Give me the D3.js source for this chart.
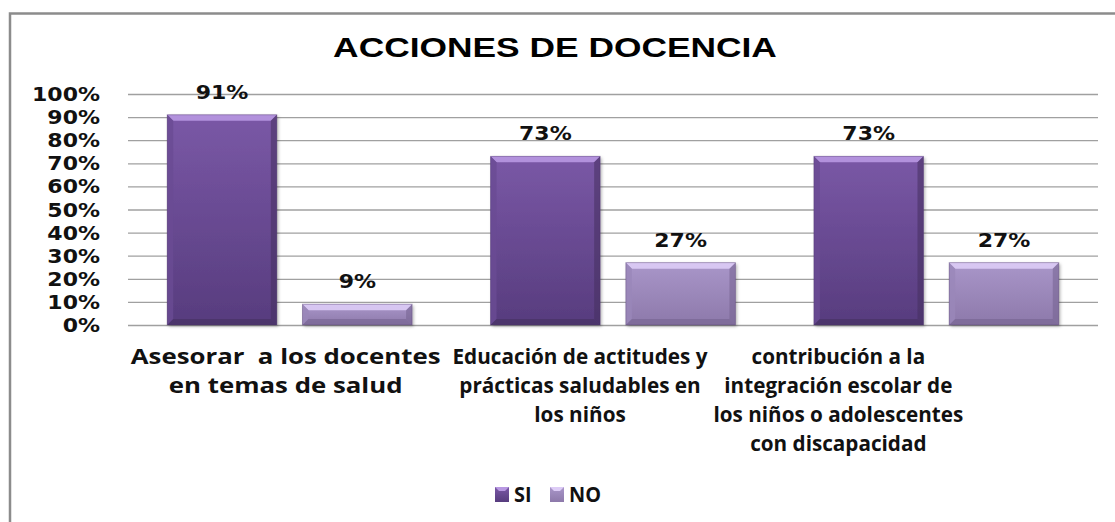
<!DOCTYPE html>
<html lang="es">
<head>
<meta charset="utf-8">
<title>Acciones de docencia</title>
<script src="https://cdn.jsdelivr.net/npm/d3@7"></script>
<style>
  html, body { margin: 0; padding: 0; background: #fff; }
  svg { display: block; }
  text { white-space: pre; }
</style>
</head>
<body>
<svg id="chart" width="1115" height="522"></svg>
<script>
// data
var categories = [
  ["Asesorar  a los docentes", "en temas de salud"],
  ["Educación de actitudes y", "prácticas saludables en", "los niños"],
  ["contribución a la", "integración escolar de", "los niños o adolescentes", "con discapacidad"]
];
var seriesNames = ["SI", "NO"];
var siValues = [0.91, 0.73, 0.73];
var noValues = [0.09, 0.27, 0.27];
var yTicks = [0, 0.1, 0.2, 0.3, 0.4, 0.5, 0.6, 0.7, 0.8, 0.9, 1.0];
var chartTitle = "ACCIONES DE DOCENCIA";

// layout
var W = 1115, H = 522;
var plot = { left: 128, right: 1098, top: 94, bottom: 325 };
var labelShift = [-4, -33, -98];     // excel pushed the wrapped labels left
var labelWidth = [310, 255, 250];    // widest line of each label in the original
var colors = {
  SI: { top: "#7a58a6", bottom: "#573c7e", bevel: "#b898e2", side: "#6a4b93", low: "#45305f" },
  NO: { top: "#a996c9", bottom: "#8d79aa", bevel: "#ddccf6", side: "#9a87b9", low: "#74628f" }
};

var svg = d3.select("#chart");
var defs = svg.append("defs");

seriesNames.forEach(function (s) {
  var g = defs.append("linearGradient").attr("id", "grad" + s)
    .attr("x1", 0).attr("y1", 0).attr("x2", 0).attr("y2", 1);
  g.append("stop").attr("offset", "0%").attr("stop-color", colors[s].top);
  g.append("stop").attr("offset", "100%").attr("stop-color", colors[s].bottom);
});

var shadow = defs.append("filter").attr("id", "shadow")
  .attr("x", "-10%").attr("y", "-10%").attr("width", "130%").attr("height", "130%");
shadow.append("feDropShadow").attr("dx", 1.5).attr("dy", 1.5)
  .attr("stdDeviation", 1.5).attr("flood-color", "#000").attr("flood-opacity", 0.3);

// frame
svg.append("path")
  .attr("d", "M10," + H + " L10,13.5 L" + W + ",13.5")
  .attr("fill", "none").attr("stroke", "#8c8c8c").attr("stroke-width", 2.5);

var data = categories.map(function (c, i) {
  return { idx: i, lines: c, values: { SI: siValues[i], NO: noValues[i] } };
});

var x0 = d3.scaleBand().domain(d3.range(categories.length))
  .range([plot.left, plot.right]).paddingInner(0).paddingOuter(0);
var x1 = d3.scaleBand().domain(seriesNames)
  .range([0, x0.bandwidth()]).paddingInner(0.19).paddingOuter(0.29);
var y = d3.scaleLinear().domain([0, 1]).range([plot.bottom, plot.top]);

// stretched text helper (the original picture is wider than its fonts)
function place(sel, x, yy, sx) {
  sel.attr("x", 0).attr("y", 0)
    .attr("transform", "translate(" + x + "," + yy + ") scale(" + sx + ",1)");
}

// gridlines
var yAxis = d3.axisLeft(y).tickValues(yTicks)
  .tickSize(-(plot.right - plot.left)).tickFormat(d3.format(".0%"));
var ax = svg.append("g").attr("transform", "translate(" + plot.left + ",0)").call(yAxis);
ax.select(".domain").remove();
ax.selectAll(".tick line").attr("stroke", "#a0a0a0").attr("stroke-width", 1.3);
ax.selectAll(".tick text").remove();

// tick labels
var numFont = "'DejaVu Sans', Verdana, sans-serif";
svg.append("g").selectAll("text").data(yTicks).join("text")
  .attr("font-family", numFont).attr("font-weight", "bold").attr("font-size", 20)
  .attr("fill", "#111").attr("text-anchor", "end")
  .text(d3.format(".0%"))
  .each(function (d) { place(d3.select(this), 100, y(d) + 7, 1.1); });

// bars
var groups = svg.append("g").selectAll("g").data(data).join("g")
  .attr("transform", function (d) { return "translate(" + x0(d.idx) + ",0)"; });

groups.each(function (d) {
  var g = d3.select(this);
  seriesNames.forEach(function (s) {
    var bx = x1(s), bw = x1.bandwidth();
    var by = y(d.values[s]), bh = y(0) - y(d.values[s]);
    var b = Math.min(6, bh / 2);
    var c = colors[s];
    var bar = g.append("g");
    bar.append("rect").attr("x", bx).attr("y", by).attr("width", bw).attr("height", bh)
      .attr("fill", "url(#grad" + s + ")").attr("filter", "url(#shadow)");
    var pts = function (arr) { return arr.map(function (p) { return p.join(","); }).join(" "); };
    bar.append("polygon").attr("fill", c.bevel).attr("opacity", 0.9)
      .attr("points", pts([[bx, by], [bx + bw, by], [bx + bw - b, by + b], [bx + b, by + b]]));
    bar.append("polygon").attr("fill", c.side).attr("opacity", 0.8)
      .attr("points", pts([[bx, by], [bx + b, by + b], [bx + b, by + bh - b], [bx, by + bh]]));
    bar.append("polygon").attr("fill", c.low).attr("opacity", 0.55)
      .attr("points", pts([[bx + bw, by], [bx + bw, by + bh], [bx + bw - b, by + bh - b], [bx + bw - b, by + b]]));
    bar.append("polygon").attr("fill", c.low).attr("opacity", 0.6)
      .attr("points", pts([[bx, by + bh], [bx + b, by + bh - b], [bx + bw - b, by + bh - b], [bx + bw, by + bh]]));
    bar.append("rect").attr("x", bx).attr("y", by).attr("width", bw).attr("height", bh)
      .attr("fill", "none").attr("stroke", "#4a3566").attr("stroke-opacity", 0.35).attr("stroke-width", 1);

    // value label
    g.append("text")
      .attr("font-family", numFont).attr("font-weight", "bold").attr("font-size", 20)
      .attr("fill", "#111").attr("text-anchor", "middle")
      .text(d3.format(".0%")(d.values[s]))
      .call(place, bx + bw / 2, by - 16, 1.1);
  });
});

// category labels
var catFont = "'Open Sans', Lato, sans-serif";
var catGroup = svg.append("g");

data.forEach(function (d) {
  var cx = x0(d.idx) + x0.bandwidth() / 2 + labelShift[d.idx];
  var texts = d.lines.map(function (line, j) {
    return catGroup.append("text")
      .attr("font-family", catFont).attr("font-weight", "bold").attr("font-size", 21)
      .attr("fill", "#111").attr("text-anchor", "middle")
      .text(line);
  });
  var widest = d3.max(texts, function (t) { return t.node().getComputedTextLength(); });
  var sx = labelWidth[d.idx] / widest;
  texts.forEach(function (t, j) { t.call(place, cx, 364 + j * 29, sx); });
});

// title
var title = svg.append("text")
  .attr("font-family", "'Liberation Sans', Arial, sans-serif")
  .attr("font-weight", "bold").attr("font-size", 28)
  .attr("fill", "#000").attr("text-anchor", "middle").text(chartTitle);
var tSx = 444 / title.node().getComputedTextLength();
title.call(place, 555, 57, tSx);

// legend
var legendX = [495, 550];
var leg = svg.append("g").selectAll("g").data(seriesNames).join("g")
  .attr("transform", function (s, i) { return "translate(" + legendX[i] + ",487)"; });
leg.append("rect").attr("width", 14).attr("height", 15)
  .attr("fill", function (s) { return "url(#grad" + s + ")"; });
leg.append("polygon").attr("points", "0,0 14,0 10,4 4,4")
  .attr("fill", function (s) { return colors[s].bevel; });
var legTexts = leg.append("text")
  .attr("font-family", catFont).attr("font-weight", "bold").attr("font-size", 21)
  .attr("fill", "#111").text(function (s) { return s; });
var noLen = legTexts.filter(function (s) { return s === "NO"; }).node().getComputedTextLength();
var legSx = 32 / noLen;
legTexts.each(function () { place(d3.select(this), 19, 15, legSx); });
</script>
</body>
</html>
